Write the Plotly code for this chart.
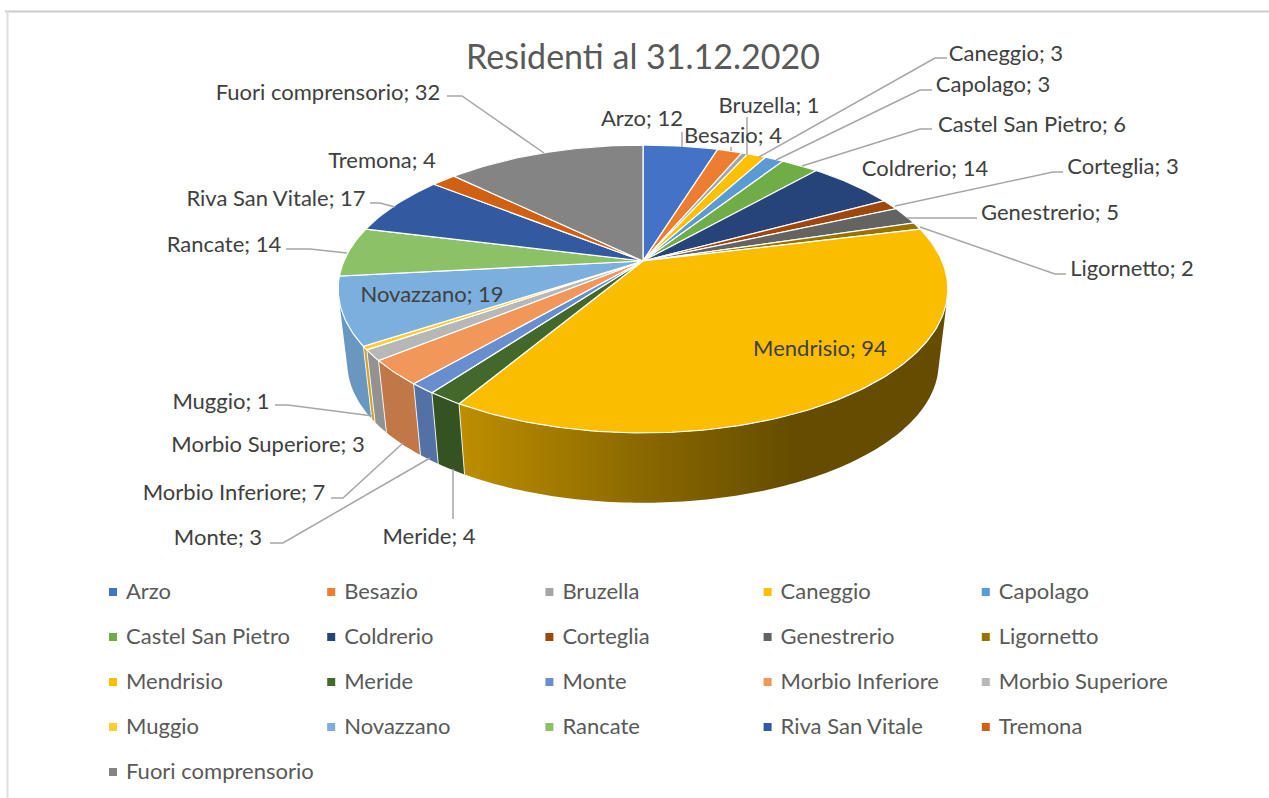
import math
import plotly.graph_objects as go

CATEGORIES = ["Arzo", "Besazio", "Bruzella", "Caneggio", "Capolago", "Castel San Pietro", "Coldrerio",
              "Corteglia", "Genestrerio", "Ligornetto", "Mendrisio", "Meride", "Monte", "Morbio Inferiore",
              "Morbio Superiore", "Muggio", "Novazzano", "Rancate", "Riva San Vitale", "Tremona",
              "Fuori comprensorio"]
VALUES = [12, 4, 1, 3, 3, 6, 14, 3, 5, 2, 94, 4, 3, 7, 3, 1, 19, 14, 17, 4, 32]
TITLE = "Residenti al 31.12.2020"

TOP_COLORS = ["#4472C4", "#ED7D31", "#A5A5A5", "#FFC000", "#5B9BD5", "#70AD47", "#264478", "#9E480E",
              "#636363", "#997300", "#FBBD00", "#43682B", "#698ED0", "#F1975A", "#B7B7B7", "#FFCD33",
              "#7CAFDD", "#8CC168", "#335AA1", "#D26012", "#848484"]

WIDTH, HEIGHT = 1269, 798
FONT = "Lato"
LABEL_SIZE = 22
TEXT_DY = 2
CX, CY, A, B, K = 643, 261, 299, 138.5, 0.1944   # perspective pie geometry
WALL_SCALE, WALL_DROP = 0.97, 75

# label centre positions (pixels) and leader line routes, in category order
LABEL_XY = [(642, 118), (733, 135), (769, 105), (1006, 53), (993, 84), (1032, 124), (925, 168),
            (1123, 166), (1050, 212), (1132, 268), (820, 348), (429, 536), (218, 537), (234, 492),
            (268, 444), (221, 401), (432, 294), (224, 244), (276, 198), (382, 160), (328, 92)]
LEADERS = [
    [(682, 132), (682, 147)],
    [(731, 147), (731, 151)],
    [(747, 117), (747, 155)],
    [(947, 58), (935, 58), (759, 157)],
    [(932, 90), (920, 90), (776, 160)],
    [(932, 129), (920, 129), (802, 166)],
    [(1063, 172), (1053, 172), (895, 206)],
    [(977, 218), (907, 218)],
    [(1066, 274), (1055, 274), (920, 227)],
    [(453, 469), (453, 519)],
    [(270, 543), (283, 543), (430, 458)],
    [(331, 498), (343, 498), (403, 443)],
    [(275, 405), (288, 405), (373, 416)],
    [(286, 249), (310, 249), (347, 253)],
    [(370, 203), (380, 203), (395, 207)],
    [(447, 96), (462, 96), (544, 153)],
]
LEGEND_X0, LEGEND_DX, LEGEND_Y0, LEGEND_DY, LEGEND_COLS = 113, 218.2, 592, 45, 5


def rim(theta, wall=False):
    u, v = math.sin(theta), math.cos(theta)
    d = 1 + K * v
    x, y = A * u / d, B * v / d
    if wall:
        return CX + WALL_SCALE * x, CY + WALL_DROP - WALL_SCALE * y
    return CX + x, CY - y


def shade(hex_color, f):
    r, g, b = (int(hex_color[i:i + 2], 16) for i in (1, 3, 5))
    return f"rgb({int(r * f)},{int(g * f)},{int(b * f)})"


def wall_strip(a0, a1):
    """Quads between the upper and lower rim, all wound the same way."""
    n = max(4, int((a1 - a0) * 60))
    xs, ys = [], []
    for j in range(n):
        t0, t1 = a0 + (a1 - a0) * j / n, a0 + (a1 - a0) * (j + 1) / n
        quad = [rim(t0), rim(t1), rim(t1, True), rim(t0, True)]
        area = sum(quad[k][0] * quad[(k + 1) % 4][1] - quad[(k + 1) % 4][0] * quad[k][1] for k in range(4))
        if area < 0:
            quad.reverse()
        quad.append(quad[0])
        xs += [p[0] for p in quad] + [None]
        ys += [p[1] for p in quad] + [None]
    return xs[:-1], ys[:-1]


total = sum(VALUES)
spans, acc = [], 0
for val in VALUES:
    spans.append((acc / total * 2 * math.pi, (acc + val) / total * 2 * math.pi))
    acc += val

fig = go.Figure()

# frame of the chart area
frame = dict(type="line", xref="x", yref="y", layer="below")
shapes = [dict(frame, x0=5, y0=11.5, x1=WIDTH, y1=11.5, line=dict(color="#cbcbcb", width=2)),
          dict(frame, x0=7.5, y0=11, x1=7.5, y1=HEIGHT, line=dict(color="#dedede", width=2))]

# side walls, back to front
order = sorted(range(len(VALUES)), key=lambda i: -math.cos((spans[i][0] + spans[i][1]) / 2))
for i in order:
    a0, a1 = spans[i]
    xs, ys = wall_strip(a0, a1)
    style = dict(fillcolor=shade(TOP_COLORS[i], 0.8))
    if CATEGORIES[i] == "Mendrisio":
        style = dict(fillgradient=dict(type="horizontal",
                                       colorscale=[[0, "#bd8e00"], [0.37, "#8b6900"],
                                                   [0.68, "#654c00"], [1, "#654c00"]]))
    elif CATEGORIES[i] == "Novazzano":
        style = dict(fillcolor="#6a97bf")
    fig.add_trace(go.Scatter(x=xs, y=ys, mode="lines", fill="toself", line=dict(width=0),
                             hoverinfo="skip", showlegend=False, **style))

# white seams between the walls that face the viewer
for a0, _ in spans:
    if math.cos(a0) < -0.2:
        p0, p1 = rim(a0), rim(a0, True)
        fig.add_trace(go.Scatter(x=[p0[0], p1[0]], y=[p0[1], p1[1]], mode="lines",
                                 line=dict(color="rgba(255,255,255,0.85)", width=1),
                                 hoverinfo="skip", showlegend=False))

# top face
for i, (a0, a1) in enumerate(spans):
    n = max(4, int((a1 - a0) * 60))
    rim_pts = [rim(a0 + (a1 - a0) * j / n) for j in range(n + 1)]
    pts = [(CX, CY)] + rim_pts + [(CX, CY)]
    fig.add_trace(go.Scatter(x=[p[0] for p in pts], y=[p[1] for p in pts], mode="lines", fill="toself",
                             fillcolor=TOP_COLORS[i], line=dict(color="white", width=1.2),
                             name=CATEGORIES[i], text=f"{CATEGORIES[i]}; {VALUES[i]}",
                             hoverinfo="text", showlegend=False))

# leader lines
for route in LEADERS:
    fig.add_trace(go.Scatter(x=[p[0] for p in route], y=[p[1] for p in route], mode="lines",
                             line=dict(color="#a6a6a6", width=1.5), hoverinfo="skip", showlegend=False))

# data labels
fig.add_trace(go.Scatter(x=[p[0] for p in LABEL_XY], y=[p[1] + TEXT_DY for p in LABEL_XY], mode="text",
                         text=[f"{c}; {v}" for c, v in zip(CATEGORIES, VALUES)],
                         textposition="middle center",
                         textfont=dict(family=FONT, size=LABEL_SIZE, color="#404040"),
                         hoverinfo="skip", showlegend=False))

# legend grid
lx = [LEGEND_X0 + LEGEND_DX * (i % LEGEND_COLS) for i in range(len(CATEGORIES))]
ly = [LEGEND_Y0 + LEGEND_DY * (i // LEGEND_COLS) for i in range(len(CATEGORIES))]
fig.add_trace(go.Scatter(x=lx, y=ly, mode="markers",
                         marker=dict(symbol="square", size=8, color=TOP_COLORS),
                         hoverinfo="skip", showlegend=False))
fig.add_trace(go.Scatter(x=[v + 13 for v in lx], y=[v + 1 for v in ly], mode="text", text=CATEGORIES,
                         textposition="middle right",
                         textfont=dict(family=FONT, size=LABEL_SIZE, color="#595959"),
                         hoverinfo="skip", showlegend=False))

# title
fig.add_trace(go.Scatter(x=[643], y=[60], mode="text", text=[TITLE], textposition="middle center",
                         textfont=dict(family=FONT, size=34, color="#595959"),
                         hoverinfo="skip", showlegend=False))

axis = dict(visible=False, fixedrange=True)
fig.update_layout(width=WIDTH, height=HEIGHT, margin=dict(l=0, r=0, t=0, b=0), autosize=False,
                  paper_bgcolor="white", plot_bgcolor="white", shapes=shapes,
                  xaxis=dict(axis, range=[0, WIDTH]), yaxis=dict(axis, range=[HEIGHT, 0]))
fig.write_html("out.html", config=dict(displayModeBar=False),
               post_script="document.body.style.margin='0';document.body.style.overflow='hidden';")
